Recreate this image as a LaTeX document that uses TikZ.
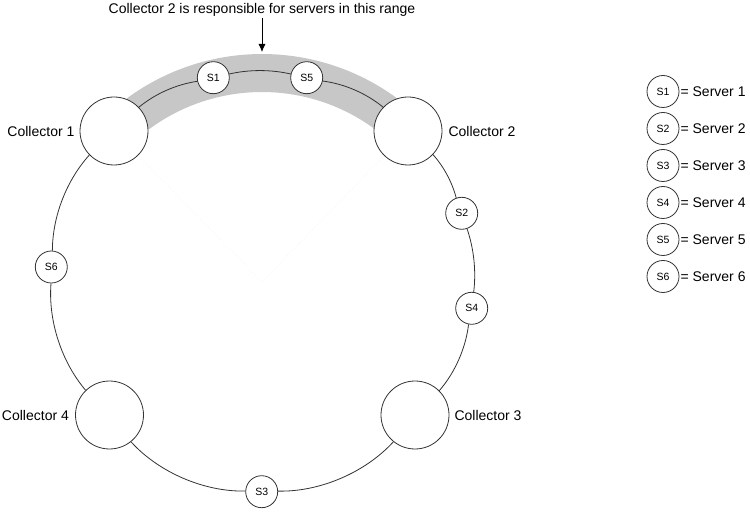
\documentclass[tikz,border=0pt]{standalone}
\usepackage{fontspec}
\setmainfont{Liberation Sans}
\usetikzlibrary{positioning,arrows.meta}
\begin{document}
\begin{tikzpicture}[x=1pt,y=1pt,looseness=0.85,
  collector/.style={draw=black!80,fill=white,circle,line width=0.8pt,minimum size=68pt,inner sep=0pt},
  server/.style={draw=black!80,fill=white,circle,line width=0.8pt,minimum size=32pt,inner sep=0pt,font=\fontsize{10.5}{12}\selectfont},
  txt/.style={inner sep=1pt,font=\fontsize{14}{17}\selectfont},
  ring/.style={draw=black!80,line width=0.8pt}]
\useasboundingbox (0,0) rectangle (750,520);
\coordinate (hub) at (262,238);
% range of collector 2
\draw[black!22,line width=38pt] ([shift={(126.4:209)}]hub) arc[start angle=126.4,end angle=53.6,radius=209];
% collectors
\node[collector] (C1) at (114,389) {};
\node[collector] (C2) at (408,389) {};
\node[collector] (C3) at (415,105) {};
\node[collector] (C4) at (109.5,105) {};
\node[txt,left=4pt of C1] (N1) {Collector 1};
\node[txt,right=5pt of C2] (N2) {Collector 2};
\node[txt,right=4pt of C3] (N3) {Collector 3};
\node[txt,left=5pt of C4] (N4) {Collector 4};
% servers on the ring
\node[server] (S1) at (213.3,442.3) {S1};
\node[server] (S5) at (306.7,442.3) {S5};
\node[server] (S2) at (461.7,306.7) {S2};
\node[server] (S4) at (471.7,211.7) {S4};
\node[server] (S3) at (261.7,28.3) {S3};
\node[server] (S6) at (51.3,253) {S6};
\draw[dotted,black!10] (C1) -- (hub) -- (C2);
% the ring
\draw[ring] (C1) to[bend left=15.5] (S1);
\draw[ring] (S1) to[bend left=13] (S5);
\draw[ring] (S5) to[bend left=16] (C2);
\draw[ring] (C2) to[bend left=13.5] (S2);
\draw[ring] (S2) to[bend left=13] (S4);
\draw[ring] (S4) to[bend left=17] (C3);
\draw[ring] (C3) to[bend left=24.5] (S3);
\draw[ring] (S3) to[bend left=24.5] (C4);
\draw[ring] (C4) to[bend left=22.5] (S6);
\draw[ring] (S6) to[bend left=21] (C1);
% note
\node[txt,anchor=south] (title) at (262,502) {Collector 2 is responsible for servers in this range};
\coordinate (tip) at (262,468);
\draw[->,>={Latex[length=8pt,width=7pt]},line width=0.8pt] (title) -- (tip);
% legend
\node[server] (L1) at (663,428.5) {S1};
\node[txt,right=0pt of L1] (T1) {= Server 1};
\node[server] (L2) at (663,391.5) {S2};
\node[txt,right=0pt of L2] (T2) {= Server 2};
\node[server] (L3) at (663,354.5) {S3};
\node[txt,right=0pt of L3] (T3) {= Server 3};
\node[server] (L4) at (663,317.5) {S4};
\node[txt,right=0pt of L4] (T4) {= Server 4};
\node[server] (L5) at (663,280.5) {S5};
\node[txt,right=0pt of L5] (T5) {= Server 5};
\node[server] (L6) at (663,243.5) {S6};
\node[txt,right=0pt of L6] (T6) {= Server 6};
\end{tikzpicture}
\end{document}
